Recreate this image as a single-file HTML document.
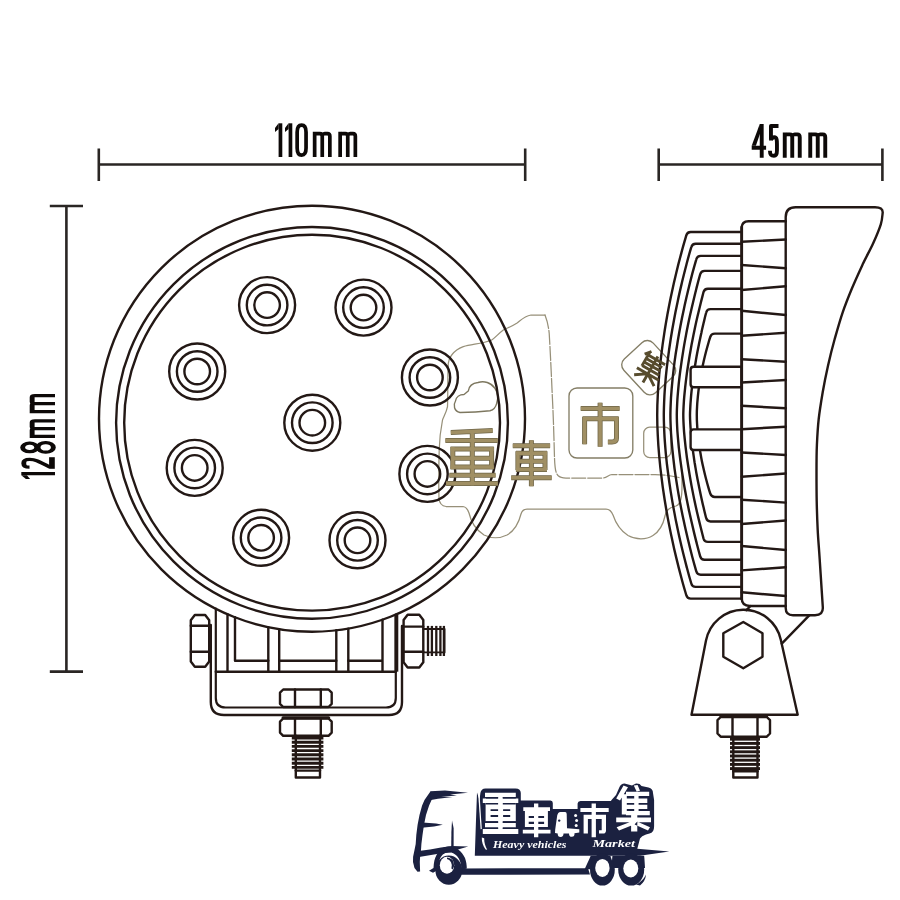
<!DOCTYPE html>
<html><head><meta charset="utf-8"><title>LED work light dimensions</title>
<style>html,body{margin:0;padding:0;background:#fff;}body{width:900px;height:900px;overflow:hidden;font-family:"Liberation Sans",sans-serif;}svg{display:block;}</style>
</head><body>
<svg width="900" height="900" viewBox="0 0 900 900">
<rect width="900" height="900" fill="#ffffff"/>
<g fill="none" stroke="#979079" stroke-width="1.25" stroke-linecap="round" stroke-linejoin="round">
<path d="M545 315H531C524 316 520 321 516.7 323.3C511 327 507 328 503.3 330C498 334 495 338 491.7 340C482 344 472 344 463.3 346.7C457 349 454 352 451.7 355C449 358 448.5 361 448.3 363.3C447.5 378 448 393 447.5 406.7C446.5 412 444 416 442.5 420C440.5 430 439.5 440 439.2 450C438.8 466 438.5 482 439 498.5C439.5 504 442 506 446 506.5H463C467 507 468 510 469 513C471 522 476 530 484 535C491 538.5 500 538.5 507 535C514 531 519 522 521 514C522 510.5 523.5 509 527 509H606C610 509 611.5 511 613 515C616 524 621 531 628 535.5C636 540 646 540 653 535.5C660 531 663.5 523 665 516C666 510 670 507 676 506C681 504 682 497 682 485V470"/>
<path d="M545 315C547 320 548.5 326 549.2 333.3C550.5 355 551.5 378 552.5 400C553.5 420 554 440 554.5 458C554.8 466 555 472 558 475.5C560 477.5 563 478 566 478H603C607 478 608 475 612 474.5H655C664 474.5 672 476 679 477.5" stroke-dasharray="14 2"/>
<rect x="643.7" y="427.2" width="27.2" height="30.3" rx="6"/>
</g>
<g fill="none" stroke="#847e66" stroke-width="1.35" stroke-linejoin="round">
<path d="M460 412.5C454 411 453 405 455.5 401C456 397 459.5 394.5 464 394.5C466 393 467 392 468.3 391C469 386 473 383 478 382.5C484 380.5 491 382.5 495 388.3C498 393 498.5 398 496.7 403.3C495.5 408 493 410 490 410.8C480 412 470 412.5 460 412.5Z" stroke="#7d775f" stroke-width="1.4"/>
<rect x="569" y="388" width="63.8" height="70" rx="8"/>
<rect x="-23" y="-20" width="46" height="40" rx="8" transform="translate(648.7,367.7) rotate(47.3)"/>
</g>
<g fill="none" stroke="#231815" stroke-width="2.4" stroke-linecap="round" stroke-linejoin="round">
<circle cx="312" cy="418.7" r="213"/>
<circle cx="312" cy="422.85" r="195.9"/>
<circle cx="312.1" cy="422.7" r="187.9"/>
<circle cx="312.3" cy="422.7" r="28.0"/>
<circle cx="312.3" cy="422.7" r="20.3"/>
<circle cx="312.3" cy="422.7" r="12.8"/>
<circle cx="363.5" cy="307.6" r="28.0"/>
<circle cx="363.5" cy="307.6" r="20.3"/>
<circle cx="363.5" cy="307.6" r="12.8"/>
<circle cx="429.9" cy="377.5" r="28.0"/>
<circle cx="429.9" cy="377.5" r="20.3"/>
<circle cx="429.9" cy="377.5" r="12.8"/>
<circle cx="427.4" cy="473.9" r="28.0"/>
<circle cx="427.4" cy="473.9" r="20.3"/>
<circle cx="427.4" cy="473.9" r="12.8"/>
<circle cx="357.5" cy="540.3" r="28.0"/>
<circle cx="357.5" cy="540.3" r="20.3"/>
<circle cx="357.5" cy="540.3" r="12.8"/>
<circle cx="261.1" cy="537.8" r="28.0"/>
<circle cx="261.1" cy="537.8" r="20.3"/>
<circle cx="261.1" cy="537.8" r="12.8"/>
<circle cx="194.7" cy="467.9" r="28.0"/>
<circle cx="194.7" cy="467.9" r="20.3"/>
<circle cx="194.7" cy="467.9" r="12.8"/>
<circle cx="197.2" cy="371.5" r="28.0"/>
<circle cx="197.2" cy="371.5" r="20.3"/>
<circle cx="197.2" cy="371.5" r="12.8"/>
<circle cx="267.1" cy="305.1" r="28.0"/>
<circle cx="267.1" cy="305.1" r="20.3"/>
<circle cx="267.1" cy="305.1" r="12.8"/>
<path d="M227.5 614.2V671.7"/>
<path d="M268.3 627.2V671.7"/>
<path d="M279.2 629.2V671.7"/>
<path d="M336.3 630.3V671.7"/>
<path d="M348.3 628.6V671.7"/>
<path d="M235 617.3V660.8H268.3"/>
<path d="M279.2 660.8H336.3"/>
<path d="M348.3 660.8H382.5M382.5 619.7V671.7"/>
<path d="M215.8 671.7H395.8"/>
<path d="M215.8 608.7V698Q215.8 707.5 225.5 707.5H386Q395.8 707.5 395.8 698V614.5" stroke-width="2.2"/>
<path d="M210.8 625V702Q210.8 715 224 715H389Q402 715 402 702V626"/>
<path d="M194.8 615H205.2L209.2 620.2V661.5L205.2 666.7H194.8L190.8 661.5V620.2Z"/>
<path d="M190.8 625.8H209.2M190.8 651.7H209.2"/>
<path d="M407.6 614.8H419.3L423.3 620.0V662.3L419.3 667.5H407.6L403.6 662.3V620.0Z"/>
<path d="M403.6 626.6H423.3M403.6 651.7H423.3"/>
<path d="M396.4 614.3V671.7" stroke-width="3.8" stroke-linecap="butt"/>
<path d="M423.3 629H444.6V652.4H423.3" stroke-width="1.8"/>
<path d="M428 625.9V656" stroke-width="2.3" stroke-linecap="butt"/>
<path d="M431.9 625.9V656" stroke-width="2.3" stroke-linecap="butt"/>
<path d="M436.3 625.9V656" stroke-width="2.3" stroke-linecap="butt"/>
<path d="M440.4 625.9V656" stroke-width="2.3" stroke-linecap="butt"/>
<path d="M443.9 625.9V656" stroke-width="2.3" stroke-linecap="butt"/>
<path d="M283.2 689.5H328.5L331.7 692.7V703.8L328.5 707H283.2L280 703.8V692.7Z"/>
<path d="M295 689.5V707M320.8 689.5V707"/>
<path d="M283.2 718.5H328.5L331.7 721.7V732.5999999999999L328.5 735.8H283.2L280 732.5999999999999V721.7Z"/>
<path d="M283 717.8H328.7" stroke-width="3"/>
<path d="M295 718.5V735.8M320.8 718.5V735.8"/>
<path d="M295.8 735.8V777.5H320V735.8"/>
<path d="M291.8 738.0H323.4" stroke-width="2.9" stroke-linecap="butt"/>
<path d="M291.8 742.2H323.4" stroke-width="2.9" stroke-linecap="butt"/>
<path d="M291.8 746.4H323.4" stroke-width="2.9" stroke-linecap="butt"/>
<path d="M291.8 750.6H323.4" stroke-width="2.9" stroke-linecap="butt"/>
<path d="M291.8 754.8H323.4" stroke-width="2.9" stroke-linecap="butt"/>
<path d="M291.8 759.0H323.4" stroke-width="2.9" stroke-linecap="butt"/>
<path d="M291.8 763.2H323.4" stroke-width="2.9" stroke-linecap="butt"/>
<path d="M291.8 767.4H323.4" stroke-width="2.9" stroke-linecap="butt"/>
<path d="M295.8 770.6H320"/>
<path d="M741.7 232.0H690.7Q687.2 232.0 686.3 235.4C685.5 238.2 683.1 246.1 681.5 252.4C679.8 258.6 677.9 265.9 676.3 272.7C674.6 279.5 673.1 286.3 671.7 293.1C670.2 299.9 668.9 306.7 667.6 313.5C666.4 320.3 665.2 327.0 664.2 333.8C663.1 340.6 662.2 347.4 661.4 354.2C660.5 361.0 659.8 367.8 659.2 374.6C658.6 381.4 658.1 388.1 657.8 394.9C657.4 401.7 657.2 408.5 657.2 415.3C657.2 422.1 657.4 428.9 657.8 435.7C658.1 442.5 658.6 449.2 659.2 456.0C659.8 462.8 660.5 469.6 661.4 476.4C662.2 483.2 663.1 490.0 664.2 496.8C665.2 503.6 666.4 510.3 667.6 517.1C668.9 523.9 670.2 530.7 671.7 537.5C673.1 544.3 674.6 551.1 676.3 557.9C677.9 564.7 679.8 572.0 681.5 578.2C683.1 584.5 685.5 592.4 686.3 595.2Q687.2 598.6 690.7 598.6H741.7"/>
<path d="M741.7 243.7H695.7Q692.2 243.7 691.3 247.1C690.5 249.7 688.4 257.0 686.9 262.8C685.4 268.6 683.6 275.5 682.1 281.8C680.6 288.2 679.1 294.5 677.8 300.9C676.4 307.3 675.1 313.6 674.0 320.0C672.8 326.3 671.7 332.7 670.7 339.0C669.7 345.4 668.8 351.7 668.0 358.1C667.1 364.5 666.4 370.8 665.8 377.2C665.3 383.5 664.7 389.9 664.4 396.2C664.1 402.6 663.8 408.9 663.8 415.3C663.8 421.7 664.1 428.0 664.4 434.4C664.7 440.7 665.3 447.1 665.8 453.4C666.4 459.8 667.1 466.1 668.0 472.5C668.8 478.9 669.7 485.2 670.7 491.6C671.7 497.9 672.8 504.3 674.0 510.6C675.1 517.0 676.4 523.3 677.8 529.7C679.1 536.1 680.6 542.4 682.1 548.8C683.6 555.1 685.4 562.0 686.9 567.8C688.4 573.6 690.5 580.9 691.3 583.5Q692.2 586.9000000000001 695.7 586.9000000000001H741.7"/>
<path d="M741.7 255.9H700.7Q697.2 255.9 696.3 259.3C695.6 261.7 693.7 268.3 692.3 273.6C690.9 279.0 689.3 285.4 687.9 291.3C686.5 297.2 685.1 303.1 683.9 309.0C682.6 314.9 681.4 320.8 680.3 326.7C679.2 332.6 678.1 338.6 677.2 344.5C676.2 350.4 675.3 356.3 674.5 362.2C673.8 368.1 673.1 374.0 672.5 379.9C671.9 385.8 671.4 391.7 671.0 397.6C670.7 403.5 670.4 409.4 670.4 415.3C670.4 421.2 670.7 427.1 671.0 433.0C671.4 438.9 671.9 444.8 672.5 450.7C673.1 456.6 673.8 462.5 674.5 468.4C675.3 474.3 676.2 480.2 677.2 486.1C678.1 492.0 679.2 498.0 680.3 503.9C681.4 509.8 682.6 515.7 683.9 521.6C685.1 527.5 686.5 533.4 687.9 539.3C689.3 545.2 690.9 551.6 692.3 557.0C693.7 562.3 695.6 568.9 696.3 571.3Q697.2 574.7 700.7 574.7H741.7"/>
<path d="M741.7 270.9H704.6Q701.1 270.9 700.2 274.3C699.6 276.4 698.0 282.2 696.8 286.9C695.6 291.7 694.1 297.6 692.9 303.0C691.6 308.3 690.4 313.7 689.2 319.0C688.1 324.4 687.0 329.7 686.0 335.1C685.0 340.4 684.0 345.8 683.2 351.1C682.3 356.5 681.5 361.8 680.8 367.2C680.0 372.5 679.4 377.9 678.8 383.2C678.3 388.6 677.8 393.9 677.4 399.3C677.1 404.6 676.8 410.0 676.8 415.3C676.8 420.6 677.1 426.0 677.4 431.3C677.8 436.7 678.3 442.0 678.8 447.4C679.4 452.7 680.0 458.1 680.8 463.4C681.5 468.8 682.3 474.1 683.2 479.5C684.0 484.8 685.0 490.2 686.0 495.5C687.0 500.9 688.1 506.2 689.2 511.6C690.4 516.9 691.6 522.3 692.9 527.6C694.1 533.0 695.6 538.9 696.8 543.7C698.0 548.4 699.6 554.2 700.2 556.3Q701.1 559.7 704.6 559.7H741.7"/>
<path d="M741.7 288.7H707.9Q704.4 288.7 703.5 292.1C703.1 293.9 701.8 298.6 700.8 302.8C699.8 306.9 698.5 312.1 697.4 316.8C696.3 321.5 695.3 326.2 694.3 330.9C693.3 335.6 692.4 340.3 691.5 345.0C690.7 349.7 689.8 354.3 689.1 359.0C688.3 363.7 687.6 368.4 686.9 373.1C686.3 377.8 685.7 382.5 685.2 387.2C684.7 391.9 684.2 396.5 683.9 401.2C683.6 405.9 683.3 410.6 683.3 415.3C683.3 420.0 683.6 424.7 683.9 429.4C684.2 434.1 684.7 438.7 685.2 443.4C685.7 448.1 686.3 452.8 686.9 457.5C687.6 462.2 688.3 466.9 689.1 471.6C689.8 476.3 690.7 480.9 691.5 485.6C692.4 490.3 693.3 495.0 694.3 499.7C695.3 504.4 696.3 509.1 697.4 513.8C698.5 518.5 699.8 523.7 700.8 527.8C701.8 532.0 703.1 536.7 703.5 538.5Q704.4 541.9000000000001 707.9 541.9000000000001H741.7"/>
<path d="M741.7 309.1H710.5Q707.0 309.1 706.2 312.5C705.8 313.9 704.9 317.5 704.1 320.9C703.3 324.3 702.2 328.8 701.4 332.7C700.5 336.6 699.7 340.6 698.9 344.5C698.1 348.4 697.3 352.4 696.6 356.3C695.9 360.2 695.3 364.2 694.6 368.1C694.0 372.0 693.5 376.0 692.9 379.9C692.4 383.8 691.9 387.8 691.5 391.7C691.1 395.6 690.8 399.6 690.5 403.5C690.3 407.4 690.0 411.4 690.0 415.3C690.0 419.2 690.3 423.2 690.5 427.1C690.8 431.0 691.1 435.0 691.5 438.9C691.9 442.8 692.4 446.8 692.9 450.7C693.5 454.6 694.0 458.6 694.6 462.5C695.3 466.4 695.9 470.4 696.6 474.3C697.3 478.2 698.1 482.2 698.9 486.1C699.7 490.0 700.5 494.0 701.4 497.9C702.2 501.8 703.3 506.3 704.1 509.7C704.9 513.1 705.8 516.7 706.2 518.1Q707.0 521.5 710.5 521.5H741.7"/>
<path d="M741.7 333.6H714.8Q711.3 333.6 710.3 336.9C710.0 337.9 709.2 340.2 708.5 342.7C707.8 345.1 706.8 348.7 706.0 351.8C705.2 354.8 704.5 357.8 703.8 360.8C703.1 363.9 702.4 366.9 701.8 369.9C701.2 372.9 700.7 376.0 700.2 379.0C699.7 382.0 699.2 385.0 698.8 388.1C698.4 391.1 698.1 394.1 697.8 397.1C697.5 400.2 697.2 403.2 697.1 406.2C696.9 409.2 696.8 412.3 696.8 415.3C696.8 418.3 696.9 421.4 697.1 424.4C697.2 427.4 697.5 430.4 697.8 433.5C698.1 436.5 698.4 439.5 698.8 442.5C699.2 445.6 699.7 448.6 700.2 451.6C700.7 454.6 701.2 457.7 701.8 460.7C702.4 463.7 703.1 466.7 703.8 469.8C704.5 472.8 705.2 475.8 706.0 478.8C706.8 481.9 707.8 485.5 708.5 487.9C709.2 490.4 710.0 492.7 710.3 493.7Q711.3 497.0 714.8 497.0H741.7"/>
<path d="M741.7 366.7H693.6Q690.6 366.7 690.6 369.7V384.2Q690.6 387.2 693.6 387.2H741.7Z" fill="#fff"/>
<path d="M741.7 429.4H693.6Q690.6 429.4 690.6 432.4V447.0Q690.6 450.0 693.6 450.0H741.7Z" fill="#fff"/>
<path d="M785.7 608V217Q785.7 207.2 795.7 207.2H875Q882.9 207.2 882.7 212.5C882.4 214.5 882.4 219.2 880.8 224.3C879.2 229.4 876.3 236.3 873.3 243.0C870.3 249.7 866.2 256.8 862.7 264.3C859.2 271.9 855.3 280.3 852.0 288.3C848.7 296.3 845.6 303.9 842.7 312.3C839.8 320.8 837.2 330.1 834.7 339.0C832.2 347.9 830.0 356.8 828.0 365.7C826.0 374.6 824.2 383.4 822.7 392.3C821.2 401.2 819.7 410.2 818.7 419.0C817.7 427.8 817.3 436.2 816.9 445.0C816.5 453.8 816.5 462.7 816.5 472.0C816.5 481.3 816.5 491.3 816.7 501.0C816.9 510.7 817.3 521.5 817.7 530.0C818.1 538.5 818.7 544.8 819.2 552.0C819.7 559.2 820.0 564.1 820.6 573.3C821.2 582.5 822.4 601.4 822.8 607.0Q823.4 615.2 815 615.2H793Q785.7 615.2 785.7 608Z" fill="#fff"/>
<path d="M785.8 221.3H748.5Q741.7 221.3 741.7 228V598Q741.7 606 750 606H785.8" />
<path d="M741.7 227V599" stroke-width="2.8"/>
<path d="M741.7 241.7L785.8 239.5"/>
<path d="M741.7 265L785.8 268.3"/>
<path d="M741.7 290L785.8 286.3"/>
<path d="M741.7 310.8L785.8 315"/>
<path d="M741.7 335.8L785.8 332.8"/>
<path d="M741.7 359.2L785.8 361.7"/>
<path d="M741.7 382.5L785.8 380"/>
<path d="M741.7 405.8L785.8 408.3"/>
<path d="M741.7 429.2L785.8 426.7"/>
<path d="M741.7 452.5L785.8 455"/>
<path d="M741.7 476.7L785.8 473.5"/>
<path d="M741.7 499.7L785.8 502.6"/>
<path d="M741.7 524L785.8 520.5"/>
<path d="M741.7 546L785.8 550"/>
<path d="M741.7 570.4L785.8 567.2"/>
<path d="M741.7 592.3L785.8 596"/>
<path d="M691.5 714.7L706 640.6A38.2 38.2 0 0 1 780.8 639.7L797.7 714.7Z" fill="#fff"/>
<path d="M743.3 622L762.5 633.3V656.7L743.3 668.3L723.3 656.7V633.3Z"/>
<path d="M750.5 606L746.4 610.2M781.8 643.6L809.5 615.2"/>
<path d="M720.7 717H766.8L770 720.2V733.5L766.8 736.7H720.7L717.5 733.5V720.2Z"/>
<path d="M721 716.6H766.5" stroke-width="3"/>
<path d="M732.5 717V736.7M757.5 717V736.7"/>
<path d="M733.3 736.7V777.5H757.5V736.7"/>
<path d="M730 739.2H760" stroke-width="2.9" stroke-linecap="butt"/>
<path d="M730 743.4H760" stroke-width="2.9" stroke-linecap="butt"/>
<path d="M730 747.6H760" stroke-width="2.9" stroke-linecap="butt"/>
<path d="M730 751.8H760" stroke-width="2.9" stroke-linecap="butt"/>
<path d="M730 756.0H760" stroke-width="2.9" stroke-linecap="butt"/>
<path d="M730 760.2H760" stroke-width="2.9" stroke-linecap="butt"/>
<path d="M730 764.4H760" stroke-width="2.9" stroke-linecap="butt"/>
<path d="M730 768.6H760" stroke-width="2.9" stroke-linecap="butt"/>
<path d="M733.3 771.2H757.5"/>
</g>
<g fill="none" stroke="#6f6649" stroke-width="5" stroke-linecap="butt">
<path d="M450.8 432.4L492.7 430.6M445.4 440.5H497.8M450.5 449H493.8M452.8 447V469M491.6 447V469M452.8 458.2H491.6M450.5 467H493.8M449.4 475.3H495.6M446.1 483.4H497.8M472.3 430V485.5"/>
<path d="M531.4 440.3V486.2M512.8 445.7H550.1M515.9 453.2H547M517.9 451.3V470M545 451.3V470M517.9 461.3H545M515.9 469.4H547M511.2 477.8H551.7"/>
<path d="M600.1 402.8V446.7M580.7 408.6H619.6M582.7 418.7H618.5M584.6 416.8V444.3M616.5 416.8V438Q616.5 442 612 442H607.9"/>
</g>
<g fill="none" stroke="#a08f64" stroke-width="3.5" stroke-linecap="butt">
<path d="M450.8 432.4L492.7 430.6M445.4 440.5H497.8M450.5 449H493.8M452.8 447V469M491.6 447V469M452.8 458.2H491.6M450.5 467H493.8M449.4 475.3H495.6M446.1 483.4H497.8M472.3 430V485.5"/>
<path d="M531.4 440.3V486.2M512.8 445.7H550.1M515.9 453.2H547M517.9 451.3V470M545 451.3V470M517.9 461.3H545M515.9 469.4H547M511.2 477.8H551.7"/>
<path d="M600.1 402.8V446.7M580.7 408.6H619.6M582.7 418.7H618.5M584.6 416.8V444.3M616.5 416.8V438Q616.5 442 612 442H607.9"/>
</g>
<g transform="translate(651,368.5) rotate(30) scale(1.15)" fill="none" stroke="#574c2e" stroke-width="2.5">
<path d="M-8 -12V2M-8 -9H9M-8 -5.5H8M-8 -2H8M-8 1.5H9M0 -12V2M-11 5.5H11M0 2V14M-1 6L-10 12M1 6L10 12M-7 -13L-11 -8"/>
</g>
<g fill="none" stroke="#2a2624" stroke-width="2.6" stroke-linecap="butt">
<path d="M98.8 164.5H525.2M98.8 148.4V181M525.2 148.4V181"/>
<path d="M658.7 164.5H882.4M658.7 148.4V181M882.4 148.4V181"/>
<path d="M66.4 206V671.6M49.8 206H83M49.8 671.6H83"/>
</g>
<g transform="translate(0,157.0)">
<path d="M280.45 0V-33.7" fill="none" stroke="#0d0908" stroke-width="3.7" stroke-linejoin="round"/>
<path d="M278.60 -33.7L275.00 -29.1V-24.900000000000002L278.60 -28.1Z" fill="#0d0908"/>
<path d="M290.45 0V-33.7" fill="none" stroke="#0d0908" stroke-width="3.7" stroke-linejoin="round"/>
<path d="M288.60 -33.7L285.00 -29.1V-24.900000000000002L288.60 -28.1Z" fill="#0d0908"/>
<path d="M297.15 -24.730000000000018Q297.15 -31.85 301.60 -31.85Q306.05 -31.85 306.05 -24.730000000000018V-8.969999999999983Q306.05 -1.85 301.60 -1.85Q297.15 -1.85 297.15 -8.969999999999983Z" fill="none" stroke="#0d0908" stroke-width="3.7" stroke-linejoin="round"/>
<path d="M314.65 0V-25.3M314.65 -22.25Q315.25 -23.45 317.15 -23.45H319.85Q322.25 -23.45 322.25 -20.65V0M322.25 -22.05Q322.85 -23.45 324.75 -23.45H327.45Q329.85 -23.45 329.85 -20.65V0" fill="none" stroke="#0d0908" stroke-width="3.7" stroke-linejoin="round"/>
<path d="M340.15 0V-25.3M340.15 -22.25Q340.75 -23.45 342.65 -23.45H345.35Q347.75 -23.45 347.75 -20.65V0M347.75 -22.05Q348.35 -23.45 350.25 -23.45H352.95Q355.35 -23.45 355.35 -20.65V0" fill="none" stroke="#0d0908" stroke-width="3.7" stroke-linejoin="round"/>
</g>
<g transform="translate(0,157.7)">
<path d="M761.71 0V-33.7M751.70 -10.0H766.10" fill="none" stroke="#0d0908" stroke-width="3.9" stroke-linejoin="round"/>
<path d="M759.76 -33.7L751.70 -11.95H755.90L760.26 -24.700000000000003Z" fill="#0d0908"/>
<path d="M778.50 -31.750000000000004H770.95V-17.2M770.75 -17.5C771.45 -19.8 773.45 -20.4 774.35 -20.4C776.95 -20.4 776.95 -17 776.95 -13.5V-7.5C776.95 -3.5 775.95 -1.95 773.95 -1.95C770.55 -1.95 769.95 -3.5 769.95 -7" fill="none" stroke="#0d0908" stroke-width="3.9" stroke-linejoin="round"/>
<path d="M784.75 0V-25.3M784.75 -22.150000000000002Q785.35 -23.35 787.25 -23.35H789.85Q792.25 -23.35 792.25 -20.55V0M792.25 -21.950000000000003Q792.85 -23.35 794.75 -23.35H797.35Q799.75 -23.35 799.75 -20.55V0" fill="none" stroke="#0d0908" stroke-width="3.9" stroke-linejoin="round"/>
<path d="M810.25 0V-25.3M810.25 -22.150000000000002Q810.85 -23.35 812.75 -23.35H815.35Q817.75 -23.35 817.75 -20.55V0M817.75 -21.950000000000003Q818.35 -23.35 820.25 -23.35H822.85Q825.25 -23.35 825.25 -20.55V0" fill="none" stroke="#0d0908" stroke-width="3.9" stroke-linejoin="round"/>
</g>
<g transform="translate(55,478.9) rotate(-90) scale(0.65,1)">
<path d="M8.01 0V-33.7" fill="none" stroke="#0d0908" stroke-width="4.9" stroke-linejoin="round"/>
<path d="M5.56 -33.7L0.00 -29.1V-24.900000000000002L5.56 -28.1Z" fill="#0d0908"/>
<path d="M17.99 -25.500000000000004C17.99 -29.750000000000004 19.19 -31.250000000000004 24.06 -31.250000000000004C29.13 -31.250000000000004 30.13 -29.250000000000004 30.13 -25.250000000000004C30.13 -20.250000000000004 28.13 -17.250000000000004 17.74 -4.7" fill="none" stroke="#0d0908" stroke-width="4.9" stroke-linejoin="round"/>
<path d="M15.54 -3.0500000000000003H33.38" fill="none" stroke="#0d0908" stroke-width="5.7"/>
<path d="M41.87 -25.3A6.60 6.8 0 1 1 55.06 -25.3A6.60 6.8 0 1 1 41.87 -25.3ZM41.07 -9.3A7.40 7.4 0 1 1 55.86 -9.3A7.40 7.4 0 1 1 41.07 -9.3Z" fill="none" stroke="#0d0908" stroke-width="4.9" stroke-linejoin="round"/>
<path d="M65.37 0V-25.3M65.37 -21.650000000000002Q65.97 -22.85 67.87 -22.85H74.91Q77.31 -22.85 77.31 -20.05V0M77.31 -21.450000000000003Q77.91 -22.85 79.81 -22.85H86.84Q89.24 -22.85 89.24 -20.05V0" fill="none" stroke="#0d0908" stroke-width="4.9" stroke-linejoin="round"/>
<path d="M103.37 0V-25.3M103.37 -21.650000000000002Q103.97 -22.85 105.87 -22.85H113.37Q115.77 -22.85 115.77 -20.05V0M115.77 -21.450000000000003Q116.37 -22.85 118.27 -22.85H125.77Q128.17 -22.85 128.17 -20.05V0" fill="none" stroke="#0d0908" stroke-width="4.9" stroke-linejoin="round"/>
</g>
<defs><filter id="nf" x="-5%" y="-20%" width="110%" height="140%"><feOffset dx="0" dy="0"/></filter></defs>
<g fill="#1b2140" stroke="none">
<path d="M474.8 855.8L476 820L477 792.5L479.5 800L480.4 793Q481 788.6 485.5 788.4H515.5Q520.8 788.6 520.8 793V800.4H550.5Q552.8 800.6 552.8 803V808.9H577.6V803.5Q577.8 801 580.5 800.9H610.8L612.4 799L616 795L619.5 787Q621 783.8 624.5 783.6L632 785.5L636 783.6Q640 783.4 641.5 786L648.5 787.5Q653 788.5 653 793L654.1 800V826Q654.2 833 649.5 833.5L646 834.5Q641.5 836 640 838.5L637.3 848.8L669.3 851.5L641.5 855.4L640 855.8Z"/>
<path d="M590.8 855.7H644.2L645 868H588Z"/>
<ellipse cx="602.4" cy="869.6" rx="12.4" ry="16"/>
<ellipse cx="631.2" cy="869.6" rx="13" ry="16"/>
<path d="M590.8 855.7L584.6 869.2H592Z"/>
<path d="M636 884.5Q643 881 646 874.4Q645.5 881 640 885.4Z"/>
<path d="M461 868.4L588 868.2L590 874.4L461 874.8Z"/>
<ellipse cx="448.8" cy="870.2" rx="13.4" ry="14.6"/>
<path d="M429 870.8L433.5 868C433.8 862 434.6 858.5 436.5 855C439.5 849.5 443.5 846.6 448.5 846.4C456 846.2 462 851 465 858C466.3 861.5 466.8 865 466.8 868.6L461.5 870C461.3 864 460 859.5 457 856C454.5 853.2 451.5 852 448.5 852.2C444 852.5 441 855.5 439.5 860C438.6 863 438.6 866 438.8 869.5L433 872.8Z"/>
<path d="M430.4 791.5L424.5 800L422.1 805.6L419.5 815L417.6 824.7L416.3 835L415.7 843.9L414.5 850L413.1 856.7L413 862L414.5 868L417.5 871.8L420.1 871.4L419.8 862L420.1 856.7L421 850L421.4 843.9L422.5 835L424 824.7L426 815L429.1 805.6L432 799L436 794Z"/>
<path d="M430.4 791.3L445 790.6L468 792.8L450 794.6L457 795.6L441 796.8L452.7 797L438 798.8L431 800Z"/>
<path d="M422.4 822.6L436 823.4L442.8 824.8L434 826.6L421.6 827.8Z"/>
<path d="M452 820.4L453.6 828V846.6L451.2 847.4L451.4 832Z"/>
<path d="M418.5 851L430 849.6L441 847.4L452 846L468.2 846.4L458 849.6L450 852.4L440 853.4L419 857Z"/>
</g>
<g fill="#ffffff" stroke="none">
<ellipse cx="447" cy="865.2" rx="7.2" ry="8.5"/>
<ellipse cx="602.4" cy="867.9" rx="7.2" ry="9"/>
<ellipse cx="630.8" cy="868.5" rx="7.5" ry="9"/>
<path d="M610.4 856.2L612.4 856L612 860.6Z"/>
<path d="M478.2 794.4L479.6 794.2L481.8 829L480.6 829.2Z"/>
<path d="M481.8 837.6L484.2 838.2C484 843 485.5 846.5 487.2 849.8L485.6 849.6C483 846 481.6 842 481.8 837.6Z"/>
<path d="M485 792.7H515.8V797.1H485Z M482.8 798.6H518.3V803H482.8Z M485.6 803H515.8V821.3H485.6Z M485 822.9H515.8V827.6H485Z M482.8 829.1H518.3V834.1H482.8Z M498.1 792.7H502.8V834H498.1Z"/>
<path d="M534 803.6H538.3V837.2H534Z M523.3 807.3H550V811H523.3Z M524.9 811H547.9V827H524.9Z M522.8 829.7H550.5V833.5H522.8Z"/>
<path d="M591.6 803.6H595.9V837.2H591.6Z M580.4 807.9H608.7V812.1H580.4Z M583.6 814.8H606V819.1H583.6Z M583.6 814.8H587.9V833.5H583.6Z M601.7 814.8H606V830.5Q606 833.6 603 833.6H599V830.2H601.7Z"/>
<path d="M621.8 794.2H626.8V814.4H621.8Z M626 791.7H649.2V796H626Z M626 798.5H647.3V802.9H626Z M626 804.8H647.3V809.1H626Z M626 811H649.8V815.3H626Z M634.2 791.7H638.6V815H634.2Z M616.2 817.4H651V822.2H616.2Z M631.1 815.3H637.3V831.5H631.1Z M631.5 821.5L634 824.5L619 830.5L616.6 827.3Z M637 821.5L634.6 824.5L648 830.4L650 827.3Z M623.5 785.5L628 787.3L620 800.6L616.2 798.4Z M633.8 785.6L637.6 785L640 790.8L636.6 791.6Z"/>
<path d="M555.2 829.5L557.2 815.6Q557.8 812.4 560.5 812H565.2Q566.6 812.2 566.7 814L567 828.3L579.3 829.2V832.6L574.5 833.2Q574.8 836.7 571.8 836.8Q569 836.8 569 833.4L563.5 833.6Q563.6 837 560.6 837Q557.6 837 557.7 833.5L555 833Z"/>
<circle cx="575.6" cy="815.4" r="1.5"/><circle cx="576.6" cy="820.6" r="1.5"/><circle cx="576.2" cy="825.6" r="1.5"/>
</g>
<g fill="#1b2140" stroke="none">
<path d="M486 797.1H498.1V798.6H486Z M502.8 797.1H515.8V798.6H502.8Z M485.6 803H498.1V804.6H485.6Z M502.8 803H515.8V804.6H502.8Z M490.6 809.2H498.1V810.9H490.6Z M503.1 809.2H510.2V810.9H503.1Z M490.6 815.1H498.1V816.9H490.6Z M503.1 815.1H510.2V816.9H503.1Z M485.6 821.3H498.1V822.9H485.6Z M502.8 821.3H515.8V822.9H502.8Z M485 827.6H498.1V829.1H485Z M502.8 827.6H515.8V829.1H502.8Z"/>
<path d="M528.7 815.9H534V818H528.7Z M538.3 815.9H544.1V818H538.3Z M528.7 821.7H534V823.9H528.7Z M538.3 821.7H544.1V823.9H538.3Z"/>
<circle cx="559.2" cy="820.6" r="1.2"/>
<path d="M447 857.6Q451.5 858 453.5 861.5Q455 865.5 452.8 869.5L451.4 868.6Q452.6 865 451 862.2Q449.5 859.6 447 859Z"/>
</g>
<g font-family="Liberation Serif, serif" font-style="italic" font-weight="bold" font-size="11.4" fill="#ffffff" filter="url(#nf)">
<text x="493" y="847.6" textLength="73.4" lengthAdjust="spacingAndGlyphs">Heavy vehicles</text>
<text x="592.4" y="847.2" textLength="42.6" lengthAdjust="spacingAndGlyphs">Market</text>
</g>
</svg></body></html>
